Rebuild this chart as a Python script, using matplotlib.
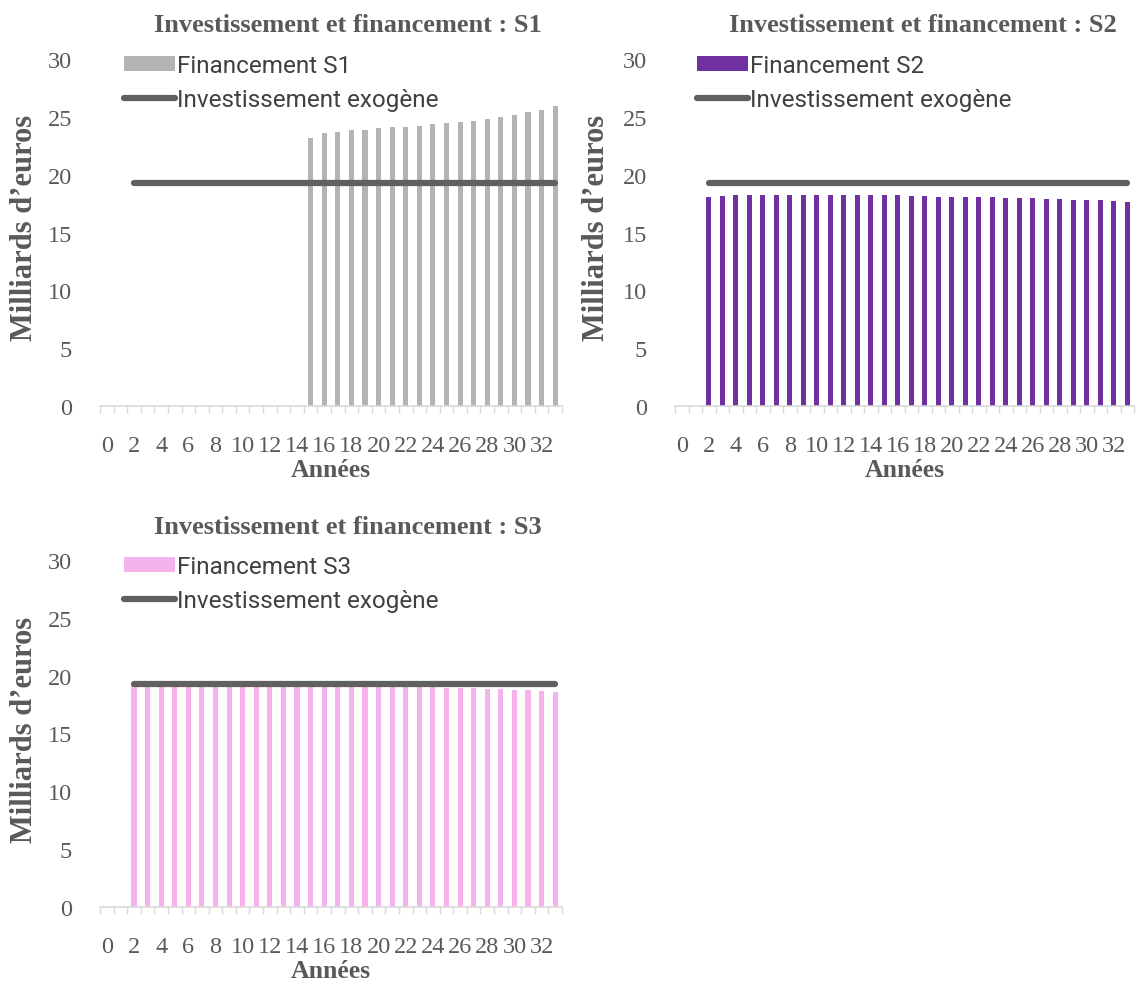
import numpy as np
import matplotlib
matplotlib.use('Agg')
from matplotlib import pyplot as plt
from matplotlib.patches import Patch
from matplotlib.lines import Line2D

# annees 0..33 (axe par categories)
annees = list(range(34))
tick_labels = [str(a) for a in range(0, 34, 2)]

invest_debut = 2
investissement = 19.3

# financement S1 : annees 15 a 33
s1_debut = 15
s1 = [23.2, 23.6, 23.7, 23.85, 23.9, 24.0, 24.1, 24.15, 24.25, 24.35,
      24.45, 24.55, 24.65, 24.8, 24.95, 25.2, 25.4, 25.6, 25.9]

# financement S2 : annees 2 a 33
s2_debut = 2
s2 = [18.1, 18.15, 18.2, 18.2, 18.25, 18.25, 18.25, 18.25, 18.25, 18.25,
      18.2, 18.2, 18.2, 18.2, 18.2, 18.15, 18.15, 18.1, 18.1, 18.1,
      18.05, 18.05, 18.0, 18.0, 17.95, 17.9, 17.9, 17.85, 17.8, 17.8,
      17.7, 17.65]

# financement S3 : annees 2 a 33
s3_debut = 2
s3 = [19.2, 19.2, 19.2, 19.2, 19.2, 19.2, 19.2, 19.2, 19.2, 19.15,
      19.15, 19.15, 19.15, 19.1, 19.1, 19.1, 19.1, 19.1, 19.05, 19.05,
      19.05, 19.0, 19.0, 18.95, 18.93, 18.9, 18.85, 18.85, 18.78, 18.75,
      18.68, 18.6]

W, H = 1136, 987
fig = plt.figure(figsize=(W / 100, H / 100), dpi=100)

grey_txt = '#595959'
serif = 'Liberation Serif'


def px_ax(x0, x1, y0, y1):
    # rectangle en pixels (y depuis le haut) -> axes
    return fig.add_axes([x0 / W, 1 - y1 / H, (x1 - x0) / W, (y1 - y0) / H])


def panel(ax, debut, vals, color, name, title_xy, ylab_xy, leg_xy):
    x = np.arange(debut, debut + len(vals))
    ax.bar(x, vals, width=0.38, color=color, zorder=2)
    xi = np.arange(invest_debut, annees[-1] + 1)
    ax.plot(xi, [investissement] * len(xi), color='#606060', lw=4.5,
            solid_capstyle='round', zorder=3)

    ax.set_xlim(annees[0] - 0.5, annees[-1] + 0.5)
    ax.set_ylim(0, 30)
    ax.set_yticks(range(0, 31, 5))
    ax.set_xticks(range(0, 34, 2))
    ax.set_xticklabels(tick_labels)
    ax.set_xticks(np.arange(-0.5, 34, 1), minor=True)
    ax.tick_params(axis='x', which='major', length=0, pad=21)
    ax.tick_params(axis='x', which='minor', length=5, color='#d9d9d9', width=1)
    ax.tick_params(axis='y', length=0, pad=20)
    for lab in ax.get_xticklabels() + ax.get_yticklabels():
        lab.set_fontfamily(serif)
        lab.set_fontsize(17.5)
        lab.set_color(grey_txt)
    for s in ['top', 'right', 'left']:
        ax.spines[s].set_visible(False)
    ax.spines['bottom'].set_color('#d9d9d9')
    ax.spines['bottom'].set_linewidth(1.2)
    ax.patch.set_alpha(0)

    ax.set_xlabel('Années', fontfamily=serif, fontweight='bold', fontsize=18.5,
                  color=grey_txt, labelpad=1)

    fig.text(title_xy[0] / W, 1 - title_xy[1] / H,
             'Investissement et financement : ' + name, ha='center', va='center',
             fontfamily=serif, fontweight='bold', fontsize=19, color=grey_txt)
    fig.text(ylab_xy[0] / W, 1 - ylab_xy[1] / H, 'Milliards d\u2019euros',
             rotation=90, ha='center', va='center', fontfamily=serif,
             fontweight='bold', fontsize=22, color=grey_txt)

    handles = [Patch(facecolor=color, edgecolor='none'),
               Line2D([0], [0], color='#606060', lw=4.5, solid_capstyle='round')]
    ax.legend(handles, ['Financement ' + name, 'Investissement exogène'],
              loc='upper left', bbox_to_anchor=(leg_xy[0] / W, 1 - leg_xy[1] / H),
              bbox_transform=fig.transFigure, frameon=False, borderpad=0,
              borderaxespad=0, handlelength=2.1, handleheight=0.6,
              handletextpad=0.1, labelspacing=0.45,
              prop={'family': 'Roboto', 'size': 17.5}, labelcolor='#404040')


ax1 = px_ax(100, 562, 60, 407)
panel(ax1, s1_debut, s1, '#b3b3b3', 'S1', (348, 26), (25, 228), (124, 55))

ax2 = px_ax(675, 1134, 60, 407)
panel(ax2, s2_debut, s2, '#7030a0', 'S2', (923, 26), (597, 228), (697, 55))

ax3 = px_ax(100, 562, 561, 908)
panel(ax3, s3_debut, s3, '#f5b3ec', 'S3', (348, 527), (25, 730), (124, 556))

fig.savefig('out.png', dpi=100)
